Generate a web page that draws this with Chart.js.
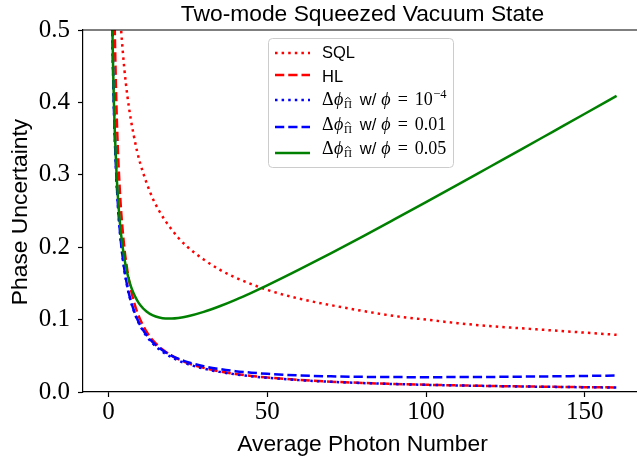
<!DOCTYPE html>
<html>
<head>
<meta charset="utf-8">
<script src="https://cdn.jsdelivr.net/npm/chart.js@4"></script>
<style>
  html, body { margin: 0; padding: 0; background: #fff; overflow: hidden; }
  #wrap { width: 650px; height: 464px; }
</style>
</head>
<body>
<div id="wrap"><canvas id="myChart" width="650" height="464"></canvas></div>
<script>
// values
const photons = [1, 1.25, 1.5, 1.75, 2, 2.5, 3, 3.5, 4, 5, 6, 7, 8, 9, 10, 12, 14, 16, 18, 20, 22, 25, 30, 35, 40, 45, 50, 60, 70, 80, 90, 100, 110, 120, 130, 140, 150, 160];
const sql = [1.0, 0.894, 0.816, 0.756, 0.707, 0.632, 0.577, 0.535, 0.5, 0.447, 0.408, 0.378, 0.354, 0.333, 0.316, 0.289, 0.267, 0.25, 0.236, 0.224, 0.213, 0.2, 0.183, 0.169, 0.158, 0.149, 0.141, 0.129, 0.12, 0.112, 0.105, 0.1, 0.095, 0.091, 0.088, 0.085, 0.082, 0.079];
const hl = [1.0, 0.8, 0.667, 0.571, 0.5, 0.4, 0.333, 0.286, 0.25, 0.2, 0.167, 0.143, 0.125, 0.111, 0.1, 0.0833, 0.0714, 0.0625, 0.0556, 0.05, 0.0455, 0.04, 0.0333, 0.0286, 0.025, 0.0222, 0.02, 0.0167, 0.0143, 0.0125, 0.0111, 0.01, 0.0091, 0.0083, 0.0077, 0.0071, 0.0067, 0.0063];
const phi1e4 = [0.577, 0.496, 0.436, 0.390, 0.354, 0.298, 0.258, 0.228, 0.204, 0.169, 0.144, 0.126, 0.112, 0.1005, 0.0913, 0.0772, 0.0668, 0.0589, 0.0527, 0.0477, 0.0435, 0.0385, 0.0323, 0.0278, 0.0244, 0.0217, 0.0196, 0.0164, 0.0141, 0.0124, 0.011, 0.0099, 0.009, 0.0083, 0.0076, 0.0071, 0.0066, 0.0062];
const phi001 = [0.5775, 0.4964, 0.4367, 0.3907, 0.3539, 0.2985, 0.2586, 0.2284, 0.2047, 0.1697, 0.1451, 0.1268, 0.1128, 0.1016, 0.0925, 0.0786, 0.0684, 0.0608, 0.0548, 0.0499, 0.046, 0.0413, 0.0356, 0.0317, 0.0288, 0.0267, 0.0251, 0.0229, 0.0216, 0.0209, 0.0206, 0.0205, 0.0206, 0.0208, 0.0212, 0.0216, 0.0222, 0.0227];
const phi005 = [0.582, 0.502, 0.443, 0.397, 0.361, 0.307, 0.269, 0.240, 0.2175, 0.185, 0.163, 0.147, 0.1357, 0.127, 0.1203, 0.1112, 0.1058, 0.1029, 0.1016, 0.1015, 0.1022, 0.1045, 0.1106, 0.1184, 0.1273, 0.137, 0.1472, 0.1689, 0.1915, 0.2147, 0.2384, 0.2623, 0.2864, 0.3108, 0.3351, 0.3597, 0.3843, 0.409];
const xTicks = [0, 50, 100, 150];
const yTicks = [0, 0.1, 0.2, 0.3, 0.4, 0.5];

const SANS = '"Liberation Sans", Arial, sans-serif';
const SERIF = '"Liberation Serif", "Times New Roman", serif';
const DOT = [2.5, 4.1];
const DASH = [9.25, 4];

function pts(ys) {
    return photons.map(function (n, i) { return {x: n, y: ys[i]}; });
}

function series(ys, color, dash, order) {
    return {
        data: pts(ys),
        borderColor: color,
        borderWidth: 2.5,
        borderDash: dash,
        borderCapStyle: 'butt',
        pointRadius: 0,
        cubicInterpolationMode: 'monotone',
        fill: false,
        clip: 0,
        order: order
    };
}

// legend rows: sample style + text pieces
const legendRows = [
    {color: '#ff0000', dash: DOT, sy: 53, by: 57.5, parts: [{t: 'SQL', f: '16.5px ' + SANS}]},
    {color: '#ff0000', dash: DASH, sy: 75, by: 81.5, parts: [{t: 'HL', f: '16.5px ' + SANS}]},
    {color: '#0000ff', dash: DOT, sy: 100, by: 105, value: [{t: '10', f: '18px ' + SERIF, gap: 0.5}, {t: '\u22124', f: '12.5px ' + SERIF, dy: -7}]},
    {color: '#0000ff', dash: DASH, sy: 127, by: 129.5, value: [{t: '0.01', f: '18px ' + SERIF}]},
    {color: '#008000', dash: [], sy: 153, by: 154, value: [{t: '0.05', f: '18px ' + SERIF}]}
];

function drawParts(c, x, y, parts) {
    parts.forEach(function (p) {
        c.font = p.f;
        c.fillText(p.t, x, y + (p.dy || 0));
        var w = c.measureText(p.t).width;
        if (p.hat) {
            var cx = x + w / 2, ty = y + (p.dy || 0) - 10;
            c.beginPath();
            c.lineWidth = 0.9;
            c.moveTo(cx - 2.6, ty + 1.6);
            c.lineTo(cx, ty - 0.6);
            c.lineTo(cx + 2.6, ty + 1.6);
            c.stroke();
        }
        x += w + (p.gap || 0);
    });
    return x;
}

const decorations = {
    id: 'decorations',
    afterDraw: function (chart) {
        var c = chart.ctx, a = chart.chartArea;
        c.save();
        // top and right spines
        c.strokeStyle = '#000';
        c.lineWidth = 1.2;
        c.beginPath();
        c.moveTo(a.left, a.top);
        c.lineTo(a.right, a.top);
        c.lineTo(a.right, a.bottom);
        c.stroke();

        c.fillStyle = '#000';
        c.textBaseline = 'alphabetic';
        c.textAlign = 'center';
        c.font = '22.8px ' + SANS;
        c.fillText('Two-mode Squeezed Vacuum State', (a.left + a.right) / 2, 21);
        c.fillText('Average Photon Number', (a.left + a.right) / 2, 451);
        c.save();
        c.translate(27, (a.top + a.bottom) / 2 + 1);
        c.rotate(-Math.PI / 2);
        c.fillText('Phase Uncertainty', 0, 0);
        c.restore();

        // legend box
        c.beginPath();
        c.roundRect(268.5, 38.5, 185, 129, 4);
        c.fillStyle = 'rgba(255,255,255,0.8)';
        c.fill();
        c.strokeStyle = '#cccccc';
        c.lineWidth = 1;
        c.stroke();

        c.textAlign = 'left';
        legendRows.forEach(function (r) {
            c.beginPath();
            c.strokeStyle = r.color;
            c.lineWidth = 2.5;
            c.lineCap = 'butt';
            c.setLineDash(r.dash);
            c.moveTo(275, r.sy);
            c.lineTo(310, r.sy);
            c.stroke();
            c.setLineDash([]);
            c.fillStyle = '#000';
            c.strokeStyle = '#000';
            var parts = r.parts;
            if (!parts) {
                parts = [
                    {t: '\u0394', f: '18px ' + SERIF, gap: 0.5},
                    {t: '\u03d5', f: 'italic 18px ' + SERIF, gap: 0.5},
                    {t: '\u03a0', f: '11px ' + SERIF, dy: 3, hat: true, gap: 8},
                    {t: 'w/', f: '16.5px ' + SANS, gap: 5},
                    {t: '\u03d5', f: 'italic 18px ' + SERIF, gap: 7},
                    {t: '=', f: '18px ' + SERIF, gap: 7}
                ].concat(r.value);
            }
            drawParts(c, 322, r.by, parts);
        });
        c.restore();
    }
};

const ctx = document.getElementById('myChart').getContext('2d');
const myChart = new Chart(ctx, {
    type: 'line',
    data: {
        datasets: [
            series(sql, '#ff0000', DOT, 5),
            series(hl, '#ff0000', DASH, 4),
            series(phi1e4, '#0000ff', DOT, 3),
            series(phi001, '#0000ff', DASH, 2),
            series(phi005, '#008000', [], 1)
        ]
    },
    options: {
        responsive: false,
        animation: false,
        layout: {padding: {left: 0, right: 8, top: 30, bottom: 0}},
        plugins: {legend: {display: false}, tooltip: {enabled: false}},
        scales: {
            x: {
                type: 'linear',
                min: -8,
                max: 168,
                afterBuildTicks: function (s) { s.ticks = xTicks.map(function (v) { return {value: v}; }); },
                ticks: {color: '#000', font: {family: SERIF, size: 25}, padding: 0, maxRotation: 0},
                grid: {drawOnChartArea: false, tickLength: 5, tickColor: '#000', tickWidth: 1.2},
                border: {color: '#000', width: 1.2},
                afterFit: function (s) { s.height = 72; }
            },
            y: {
                type: 'linear',
                min: 0,
                max: 0.5,
                afterBuildTicks: function (s) { s.ticks = yTicks.map(function (v) { return {value: v}; }); },
                ticks: {color: '#000', font: {family: SERIF, size: 25}, padding: 8,
                    callback: function (v) { return v.toFixed(1); }},
                grid: {drawOnChartArea: false, tickLength: 5, tickColor: '#000', tickWidth: 1.2},
                border: {color: '#000', width: 1.2},
                afterFit: function (s) { s.width = 83; }
            }
        }
    },
    plugins: [decorations]
});
</script>
</body>
</html>
